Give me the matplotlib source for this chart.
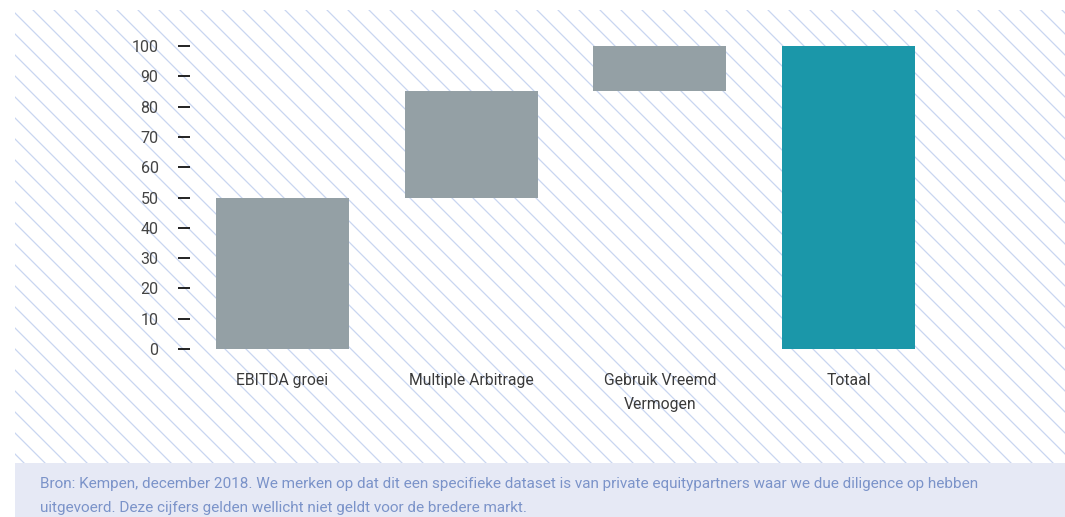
import numpy as np
import matplotlib
matplotlib.use("Agg")
import matplotlib.pyplot as plt
from matplotlib.patches import Rectangle

# waterfall: categories with start and end values
categories = ["EBITDA groei", "Multiple Arbitrage", "Gebruik Vreemd\nVermogen", "Totaal"]
starts = [0, 50, 85, 0]
ends = [50, 85, 100, 100]
colors = ["#94a0a5", "#94a0a5", "#94a0a5", "#1b97a9"]
yticks = list(range(0, 101, 10))

source_lines = [
    "Bron: Kempen, december 2018. We merken op dat dit een specifieke dataset is van private "
    "equitypartners waar we due diligence op hebben",
    "uitgevoerd. Deze cijfers gelden wellicht niet geldt voor de bredere markt.",
]

plt.rcParams['font.family'] = ['Roboto', 'DejaVu Sans']

W, H = 1065, 517
fig = plt.figure(figsize=(W / 100, H / 100), dpi=100)

# background layer in pixel units: hatched panel + source box
bg = fig.add_axes([0, 0, 1, 1])
bg.set_xlim(0, W)
bg.set_ylim(H, 0)
bg.axis('off')
panel = Rectangle((15, 10), W - 15, 453, facecolor='white', edgecolor='none')
bg.add_patch(panel)
for c in np.arange(-460, 1080, 21):
    ln, = bg.plot([c, c + 520], [0, 520], color='#c9d6f0', lw=0.9)
    ln.set_clip_path(panel)
bg.add_patch(Rectangle((15, 463), W - 15, 60, facecolor='#e6e9f5', edgecolor='none'))
for i, line in enumerate(source_lines):
    bg.text(40, 484 + 24 * i, line, color='#7b93c9', fontsize=11.0, va='center', ha='left')

# main chart
ax = fig.add_axes([190 / W, (H - 349) / H, 850 / W, 303 / H])
ax.patch.set_alpha(0)
x = np.arange(len(categories))
heights = [e - s for s, e in zip(starts, ends)]
ax.bar(x, heights, bottom=starts, width=0.705, color=colors)

ax.set_xlim(-0.49, 4.015)
ax.set_ylim(0, 100)
ax.set_yticks(yticks)
ax.set_xticks(x)
ax.set_xticklabels(categories, fontsize=11.3, color='#3a3a3a', linespacing=1.7)
ax.tick_params(axis='x', length=0, pad=17.5)
ax.tick_params(axis='y', length=8.6, width=1.3, color='#111111', pad=14,
               labelsize=11.5, labelcolor='#444444')
for s in ax.spines.values():
    s.set_visible(False)

fig.savefig("out.png", dpi=100)
